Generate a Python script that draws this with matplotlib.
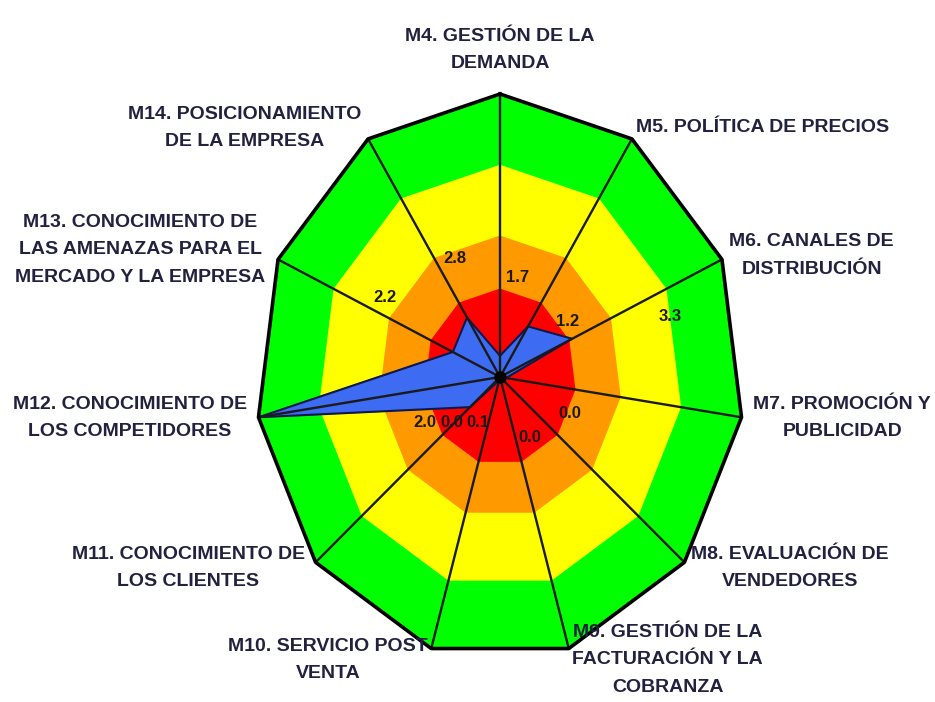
import numpy as np
import matplotlib
matplotlib.use("Agg")
from matplotlib import pyplot as plt

# --- datos del diagnostico de mercadeo (escala 0-4) ---
categorias = [
    "M4. GESTIÓN DE LA\nDEMANDA",
    "M5. POLÍTICA DE PRECIOS",
    "M6. CANALES DE\nDISTRIBUCIÓN",
    "M7. PROMOCIÓN Y\nPUBLICIDAD",
    "M8. EVALUACIÓN DE\nVENDEDORES",
    "M9. GESTIÓN DE LA\nFACTURACIÓN Y LA\nCOBRANZA",
    "M10. SERVICIO POST\nVENTA",
    "M11. CONOCIMIENTO DE\nLOS CLIENTES",
    "M12. CONOCIMIENTO DE\nLOS COMPETIDORES",
    "M13. CONOCIMIENTO DE\nLAS AMENAZAS PARA EL\nMERCADO Y LA EMPRESA",
    "M14. POSICIONAMIENTO\nDE LA EMPRESA",
]
puntaje = [0.3, 0.85, 1.3, 0.1, 0.05, 0.05, 0.05, 0.65, 4.0, 0.85, 1.0]

# franjas de semaforo: limite superior de cada franja
franjas = [4.0, 3.0, 2.0, 1.25]
colores_franja = ["#00FF00", "#FFFF00", "#FF9900", "#FF0000"]

# etiquetas de valor
etiquetas_valor = ["1.7", "2.8", "2.2", "1.2", "3.3", "0.0", "0.0", "2.0", "0.0", "0.1"]

# --- layout ---
PX_X, PX_Y = 61.0, 70.75          # pixeles por unidad en x / y
CX, CY = 500, 377                 # centro del radar en pixeles
W, H = 935, 702

pos_categorias = [
    (0.0, 4.62), (4.31, 3.52), (5.11, 1.72), (5.61, -0.58), (4.75, -2.70),
    (2.75, -4.00), (-2.82, -4.00), (-5.11, -2.70), (-6.07, -0.58),
    (-5.90, 1.80), (-4.18, 3.52),
]
pos_valores = [
    (0.28, 1.40), (-0.74, 1.68), (-1.89, 1.12), (1.11, 0.78), (2.79, 0.85),
    (1.15, -0.51), (0.49, -0.85), (-1.23, -0.65), (-0.79, -0.65), (-0.36, -0.65),
]

n = len(categorias)
ang = np.arange(n) * 2 * np.pi / n


def polar_xy(r):
    r = np.asarray(r, dtype=float)
    return r * np.sin(ang), r * np.cos(ang)


fuente = ["Liberation Sans Narrow", "Liberation Sans", "DejaVu Sans"]

fig = plt.figure(figsize=(W / 100, H / 100), dpi=100)
ax = fig.add_axes([0, 0, 1, 1])
ax.set_xlim(-CX / PX_X, (W - CX) / PX_X)
ax.set_ylim(-(H - CY) / PX_Y, CY / PX_Y)
ax.axis("off")

for lim, col in zip(franjas, colores_franja):
    x, y = polar_xy(np.full(n, lim))
    ax.fill(x, y, color=col, lw=0, zorder=1)

x, y = polar_xy(puntaje)
ax.fill(x, y, color="#3D6BF2", zorder=2)
ax.plot(np.r_[x, x[0]], np.r_[y, y[0]], color="#10184a", lw=1.5, zorder=3)

# radios y borde exterior
xo, yo = polar_xy(np.full(n, franjas[0]))
for xi, yi in zip(xo, yo):
    ax.plot([0, xi], [0, yi], color="#1a1a1a", lw=1.7, zorder=4)
ax.plot(np.r_[xo, xo[0]], np.r_[yo, yo[0]], color="black", lw=2.6, zorder=5)
ax.plot(0, 0, "o", color="black", ms=8, zorder=6)

for txt, (px, py) in zip(categorias, pos_categorias):
    ax.text(px, py, txt, ha="center", va="center", multialignment="center",
            family=fuente, weight="bold", fontsize=14, color="#222240",
            linespacing=1.8, zorder=7)

for txt, (px, py) in zip(etiquetas_valor, pos_valores):
    ax.text(px, py, txt, ha="center", va="center", family=fuente,
            weight="bold", fontsize=12, color="#1a1a1a", zorder=7)

fig.savefig("out.png", dpi=100)
